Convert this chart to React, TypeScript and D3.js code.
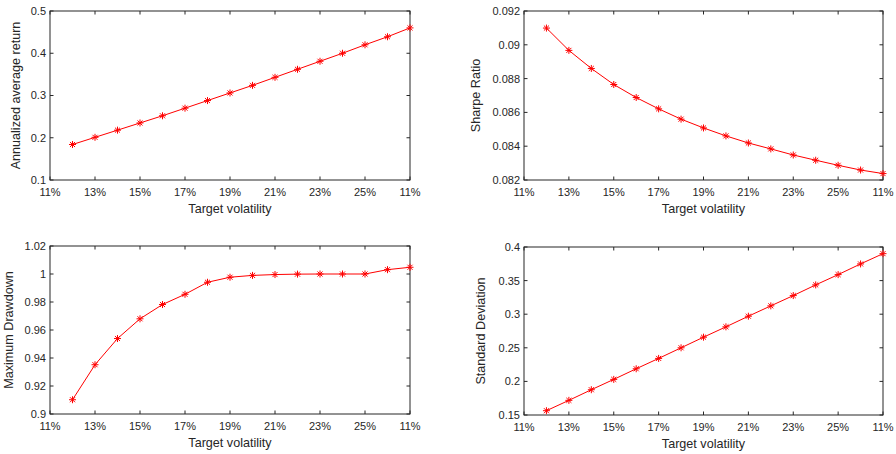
import * as d3 from "d3";

// target volatility (percent)
const vols = [12, 13, 14, 15, 16, 17, 18, 19, 20, 21, 22, 23, 24, 25, 26, 27];
const xTicks = [11, 13, 15, 17, 19, 21, 23, 25, 27];
const xTickLabels = ["11%", "13%", "15%", "17%", "19%", "21%", "23%", "25%", "11%"];

const annReturn = [0.184, 0.201, 0.218, 0.235, 0.252, 0.270, 0.288, 0.306, 0.324, 0.343, 0.362, 0.381, 0.400, 0.420, 0.439, 0.460];
const sharpe = [0.09099, 0.08967, 0.08860, 0.08765, 0.08688, 0.08621, 0.08560, 0.08508, 0.08461, 0.08419, 0.08384, 0.08348, 0.08317, 0.08287, 0.08259, 0.08238];
const maxDD = [0.9102, 0.9352, 0.9539, 0.9680, 0.9782, 0.9855, 0.9941, 0.9977, 0.9990, 0.9996, 0.9999, 1.0, 1.0, 1.0, 1.0031, 1.0048];
const stdDev = [0.1564, 0.1718, 0.1876, 0.2030, 0.2188, 0.2342, 0.2500, 0.2658, 0.2812, 0.2970, 0.3124, 0.3277, 0.3436, 0.3589, 0.3748, 0.3901];

const retTicks = [0.1, 0.2, 0.3, 0.4, 0.5];
const sharpeTicks = [0.082, 0.084, 0.086, 0.088, 0.09, 0.092];
const ddTicks = [0.9, 0.92, 0.94, 0.96, 0.98, 1, 1.02];
const sdTicks = [0.15, 0.2, 0.25, 0.3, 0.35, 0.4];

const axisColor = "#262626";
const font = "'Liberation Sans', Arial, sans-serif";

const panels = [
    { label: "Annualized average return", data: annReturn, ticks: retTicks, x0: 50, x1: 410, y0: 11, y1: 180, labelOff: 30 },
    { label: "Sharpe Ratio", data: sharpe, ticks: sharpeTicks, x0: 524, x1: 883, y0: 11, y1: 180, labelOff: 44 },
    { label: "Maximum Drawdown", data: maxDD, ticks: ddTicks, x0: 50, x1: 410, y0: 246, y1: 414, labelOff: 37 },
    { label: "Standard Deviation", data: stdDev, ticks: sdTicks, x0: 524, x1: 883, y0: 247, y1: 415, labelOff: 39 },
];

// matlab-style '*' marker
function star(cx, cy, r) {
    const d = r * 0.72;
    return `M${cx - r},${cy}H${cx + r}M${cx},${cy - r}V${cy + r}` +
        `M${cx - d},${cy - d}L${cx + d},${cy + d}M${cx - d},${cy + d}L${cx + d},${cy - d}`;
}

function Panel({ p }) {
    const x = d3.scaleLinear([11, 27], [p.x0, p.x1]);
    const y = d3.scaleLinear([p.ticks[0], p.ticks[p.ticks.length - 1]], [p.y1, p.y0]);
    const line = d3.line<number>((d, i) => x(vols[i]), (d) => y(d));
    const tl = 3.5;
    return (
        <g fontFamily={font} fontSize={11} fill={axisColor}>
            {xTicks.map((t, i) => (
                <g key={"x" + i}>
                    <line x1={x(t)} x2={x(t)} y1={p.y1} y2={p.y1 - tl} stroke={axisColor} />
                    <line x1={x(t)} x2={x(t)} y1={p.y0} y2={p.y0 + tl} stroke={axisColor} />
                    <text x={x(t)} y={p.y1 + 16} textAnchor="middle">{xTickLabels[i]}</text>
                </g>
            ))}
            {p.ticks.map((t, i) => (
                <g key={"y" + i}>
                    <line x1={p.x0} x2={p.x0 + tl} y1={y(t)} y2={y(t)} stroke={axisColor} />
                    <line x1={p.x1} x2={p.x1 - tl} y1={y(t)} y2={y(t)} stroke={axisColor} />
                    <text x={p.x0 - 4} y={y(t)} dy="0.36em" textAnchor="end">{String(t)}</text>
                </g>
            ))}
            <rect x={p.x0} y={p.y0} width={p.x1 - p.x0} height={p.y1 - p.y0} fill="none" stroke={axisColor} strokeWidth={1} />
            <path d={line(p.data)} fill="none" stroke="#ff0000" strokeWidth={1} />
            {p.data.map((d, i) => (
                <path key={"m" + i} d={star(x(vols[i]), y(d), 3.5)} stroke="#ff0000" strokeWidth={1} fill="none" />
            ))}
            <text x={(p.x0 + p.x1) / 2} y={p.y1 + 33} textAnchor="middle" fontSize={12.6}>Target volatility</text>
            <text transform={`translate(${p.x0 - p.labelOff},${(p.y0 + p.y1) / 2}) rotate(-90)`} textAnchor="middle" fontSize={12.6}>{p.label}</text>
        </g>
    );
}

export default function App() {
    return (
        <svg width={896} height={454} style={{ position: "absolute", left: 0, top: 0, background: "#fff" }}>
            <rect width={896} height={454} fill="#fff" />
            {panels.map((p, i) => <Panel key={i} p={p} />)}
        </svg>
    );
}
